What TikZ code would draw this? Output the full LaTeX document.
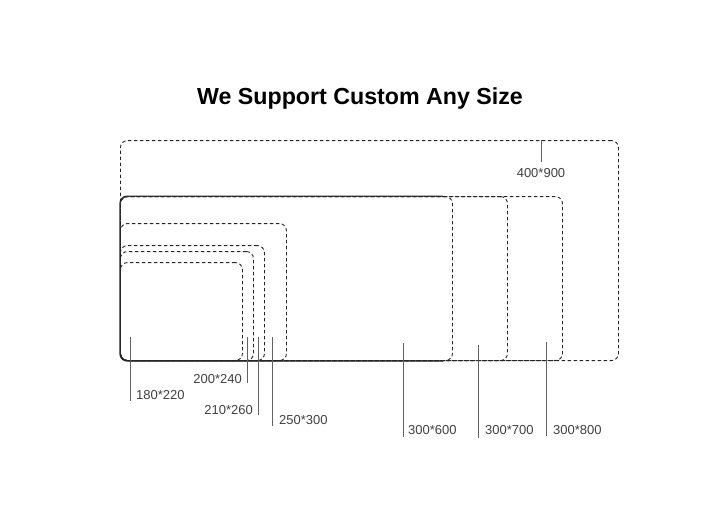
\documentclass[tikz,border=0pt]{standalone}
\usepackage{fontspec}
\setmainfont{Liberation Sans}
\usetikzlibrary{positioning}

\begin{document}
\begin{tikzpicture}[x=1pt, y=-1pt, font=\small]
        \tikzset{
            sizebox/.style={
                draw=black!85,
                line width=0.9pt,
                dash pattern=on 3.5pt off 2.5pt,
                rounded corners=7pt,
                inner sep=0pt,
                anchor=south west
            },
            outline/.style={draw=black!85, line width=1.2pt, rounded corners=7pt},
            leader/.style={draw=black!62, line width=1pt},
            sizelabel/.style={text=black!75, font=\fontsize{13}{15}\selectfont, inner sep=1pt}
        }
        \useasboundingbox (0,0) rectangle (720,507);

        \node[font=\bfseries\fontsize{23.2}{27}\selectfont] (title) at (360,98) {We Support Custom Any Size};

        % boards, biggest first
        \node[sizebox, minimum width=498pt, minimum height=220pt] (r900) at (120,361) {};
        \node[sizebox, minimum width=442pt, minimum height=164pt] (r800) at (120,361) {};
        \node[sizebox, minimum width=387pt, minimum height=164pt] (r700) at (120,361) {};
        \node[sizebox, minimum width=332pt, minimum height=164pt] (r600) at (120,361) {};
        \node[sizebox, minimum width=166pt, minimum height=137pt] (r300) at (120,361) {};
        \node[sizebox, minimum width=144pt, minimum height=115pt] (r260) at (120,361) {};
        \node[sizebox, minimum width=133pt, minimum height=109pt] (r240) at (120,361) {};
        \node[sizebox, minimum width=122pt, minimum height=98pt] (r220) at (120,361) {};
        \draw[outline] ([xshift=-10pt]r600.north east) -- (r600.north west)
            -- (r600.south west) -- ([xshift=-10pt]r600.south east);

        % leader lines and labels
        \coordinate (t220) at (130,337);
        \node[sizelabel, anchor=west] (l220) at (135,395) {180*220};
        \draw[leader] (t220) -- (130,401);

        \coordinate (t240) at (247,337);
        \node[sizelabel, anchor=east] (l240) at (243,379) {200*240};
        \draw[leader] (t240) -- (247,383);

        \coordinate (t260) at (258,337);
        \node[sizelabel, anchor=east] (l260) at (254,410) {210*260};
        \draw[leader] (t260) -- (258,415);

        \coordinate (t300) at (272,337);
        \node[sizelabel, anchor=west] (l300) at (278,420) {250*300};
        \draw[leader] (t300) -- (272,426);

        \coordinate (t600) at (403,343);
        \node[sizelabel, anchor=west] (l600) at (407,430) {300*600};
        \draw[leader] (t600) -- (403,437);

        \coordinate (t700) at (478,345);
        \node[sizelabel, anchor=west] (l700) at (484,430) {300*700};
        \draw[leader] (t700) -- (478,438);

        \coordinate (t800) at (546,342);
        \node[sizelabel, anchor=west] (l800) at (552,430) {300*800};
        \draw[leader] (t800) -- (546,436);

        \node[sizelabel] (l900) at (541,173) {400*900};
        \draw[leader] (r900.north -| l900) -- ([yshift=5pt]l900.north);
    \end{tikzpicture}
\end{document}
